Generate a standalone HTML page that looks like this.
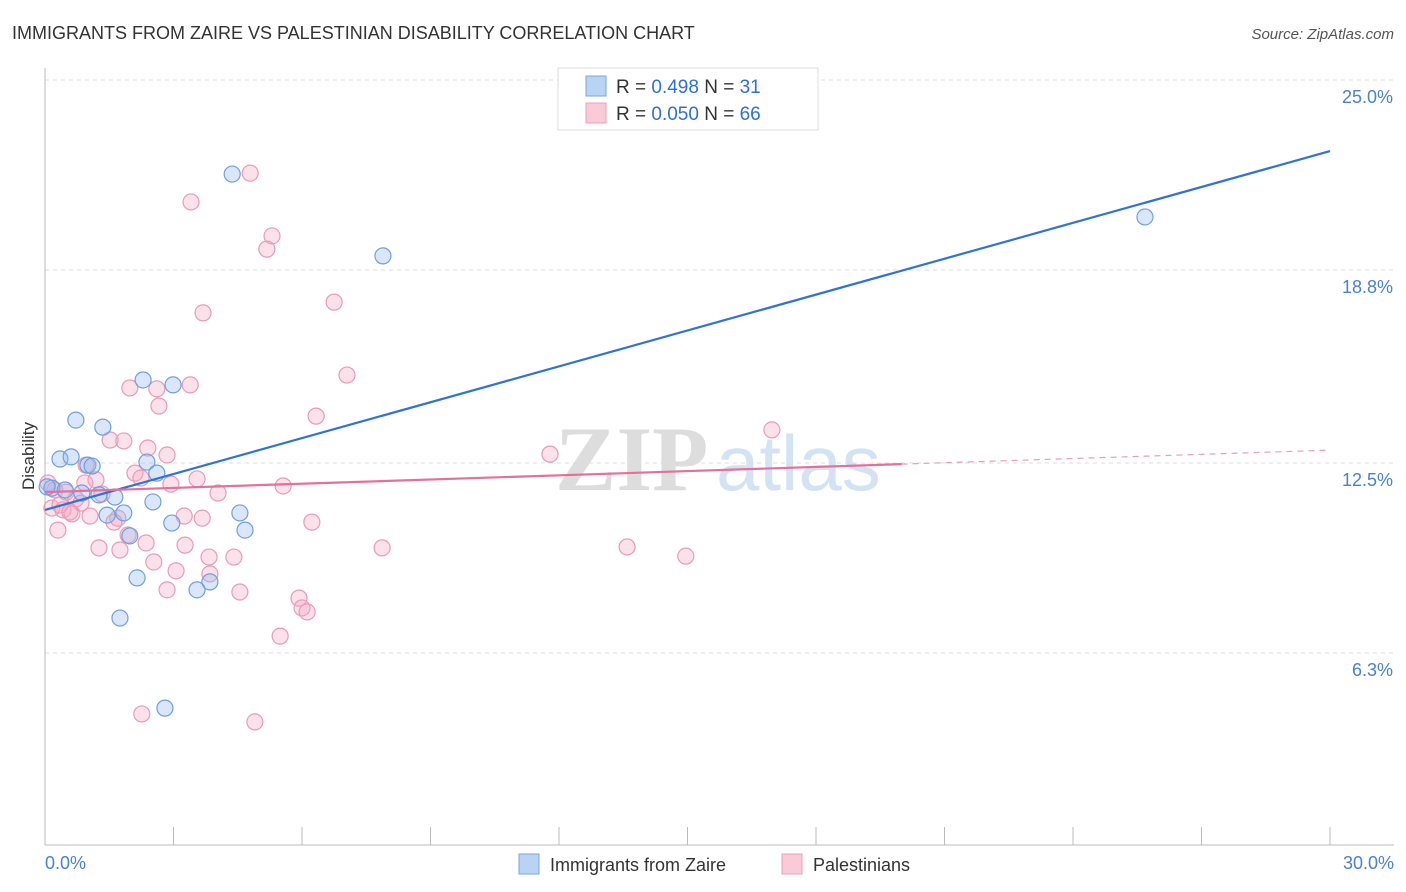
<!DOCTYPE html>
<html><head><meta charset="utf-8"><style>
body{margin:0;background:#fff;font-family:"Liberation Sans",sans-serif}
svg{display:block}
</style></head><body>
<svg id="chart" width="1406" height="892">
<text x="12" y="39" font-size="18" fill="#333">IMMIGRANTS FROM ZAIRE VS PALESTINIAN DISABILITY CORRELATION CHART</text>
<text x="1394" y="39" font-size="15" fill="#555" font-style="italic" text-anchor="end">Source: ZipAtlas.com</text>
<g><text x="555" y="490" font-size="92" fill="#ddd" font-family="Liberation Serif,serif" font-weight="bold">ZIP</text><text x="716" y="490" font-size="78" fill="#d4e3f4">atlas</text></g>
<g id="grid"></g><g id="axes"></g><g id="pts"></g><g id="lines"></g>
<text transform="translate(34,456) rotate(-90)" font-size="17" fill="#333" text-anchor="middle">Disability</text>
<text x="45" y="869" font-size="18" fill="#4a80d6">0.0%</text>
<text x="1394" y="869" font-size="18" fill="#4a80d6" text-anchor="end">30.0%</text>
<g>
<rect x="558" y="68" width="260" height="62" fill="#fff" stroke="#ddd"/>
<rect x="586" y="76" width="20" height="20" fill="#b9d3f5" stroke="#7aa6e3"/>
<rect x="586" y="103" width="20" height="20" fill="#f9cad8" stroke="#ed9fb9"/>
<text x="616" y="93" font-size="19" fill="#333">R = <tspan fill="#2f6fd6">0.498</tspan>   N = <tspan fill="#2f6fd6">31</tspan></text>
<text x="616" y="120" font-size="19" fill="#333">R = <tspan fill="#2f6fd6">0.050</tspan>   N = <tspan fill="#2f6fd6">66</tspan></text>
</g>
<g>
<rect x="519" y="854" width="20" height="20" fill="#b9d3f5" stroke="#7aa6e3"/>
<text x="550" y="871" font-size="18" fill="#333">Immigrants from Zaire</text>
<rect x="782" y="854" width="20" height="20" fill="#f9cad8" stroke="#ed9fb9"/>
<text x="813" y="871" font-size="18" fill="#333">Palestinians</text>
</g>
</svg>
<script>
const yTicks=[25.0,18.8,12.5,6.3];
const yTickLabels=["25.0%","18.8%","12.5%","6.3%"];
const xTicks=[0,3,6,9,12,15,18,21,24,27,30];
const blueX=[4.37,7.89,25.68,2.29,2.99,0.72,1.35,0.35,0.61,1.00,1.10,2.38,2.61,0.16,0.47,0.86,1.26,1.63,2.52,1.84,1.45,4.55,2.96,4.67,1.98,2.15,3.85,3.55,1.75,2.80,0.05];
const blueY=[21.93,19.26,20.53,15.21,15.05,13.90,13.67,12.63,12.70,12.43,12.40,12.53,12.17,11.68,11.62,11.52,11.46,11.39,11.23,10.87,10.80,10.87,10.54,10.31,10.12,8.75,8.62,8.36,7.44,4.50,11.72];
const pinkX=[4.79,3.41,5.30,5.18,6.75,3.69,7.05,1.98,2.61,3.39,2.66,6.33,1.52,1.84,2.40,2.85,16.97,11.79,0.96,2.10,2.24,2.94,3.55,5.56,0.93,1.19,0.23,0.49,1.33,0.72,0.84,4.04,0.16,0.42,0.63,1.05,1.70,1.61,3.25,3.67,6.23,0.30,1.94,2.36,3.27,1.26,1.75,7.87,13.59,14.96,3.83,4.41,2.54,3.06,3.85,2.85,4.55,5.93,6.00,6.12,5.49,2.26,4.90,0.07,0.35,0.58];
const pinkY=[21.96,21.02,19.91,19.48,17.75,17.40,15.37,14.95,14.92,15.05,14.36,14.03,13.25,13.22,12.99,12.76,13.58,12.79,12.43,12.17,12.01,11.81,11.98,11.75,11.85,11.95,11.62,11.55,11.49,11.33,11.19,11.52,11.03,10.97,10.84,10.77,10.70,10.57,10.77,10.70,10.57,10.31,10.15,9.89,9.82,9.73,9.66,9.73,9.76,9.46,9.43,9.43,9.27,8.98,8.88,8.36,8.29,8.09,7.77,7.64,6.85,4.31,4.05,11.85,11.13,10.90];
const blueTrend=[10.97,22.68];
const pinkTrend=[11.55,12.92];
const pinkSolidEnd=20.0;
const NS="http://www.w3.org/2000/svg";
const X=v=>45+v/30*1285, Y=v=>846-v*30.64;
function mk(t,a,p){const e=document.createElementNS(NS,t);for(const k in a)e.setAttribute(k,a[k]);document.getElementById(p).appendChild(e);return e;}
yTicks.forEach((t,i)=>{
 const l=mk('line',{x1:45,x2:1394,y1:Y(t),y2:Y(t),stroke:'#ddd','stroke-dasharray':'4,4'},'grid');
 
 
 const tx=mk('text',{x:1393,y:Y(t)+23,'font-size':18,fill:'#4a80d6','text-anchor':'end'},'grid');
 tx.textContent=yTickLabels[i];
 
 
});
const ax=mk('line',{x1:45,x2:45,y1:68,y2:845,stroke:'#bbb'},'axes');


const bx=mk('line',{x1:45,x2:1394,y1:845,y2:845,stroke:'#bbb'},'axes');


xTicks.forEach(t=>{
 const l=mk('line',{x1:X(t),x2:X(t),y1:827,y2:845,stroke:'#bbb'},'axes');
 
 
});
function pts(xs,ys,fill,stroke,name){xs.forEach((x,i)=>{
 const c=mk('circle',{cx:X(x),cy:Y(ys[i]),r:8,fill:fill,stroke:stroke,'stroke-width':1.2},'pts');
 
 
});}
pts(pinkX,pinkY,'rgba(244,170,195,0.35)','#e99bb5','palestinians-point');
pts(blueX,blueY,'rgba(150,185,240,0.35)','#6f9fe0','zaire-point');
const bl=mk('line',{x1:X(0),y1:Y(blueTrend[0]),x2:X(30),y2:Y(blueTrend[1]),stroke:'#2f72d8','stroke-width':2.2},'lines');


const pm=v=>pinkTrend[0]+(pinkTrend[1]-pinkTrend[0])*v/30;
const pl=mk('line',{x1:X(0),y1:Y(pm(0)),x2:X(pinkSolidEnd),y2:Y(pm(pinkSolidEnd)),stroke:'#e5709a','stroke-width':2.2},'lines');


const pd=mk('line',{x1:X(pinkSolidEnd),y1:Y(pm(pinkSolidEnd)),x2:X(30),y2:Y(pm(30)),stroke:'#e5a0b8','stroke-width':1.2,'stroke-dasharray':'6,5'},'lines');


</script>
</body></html>
